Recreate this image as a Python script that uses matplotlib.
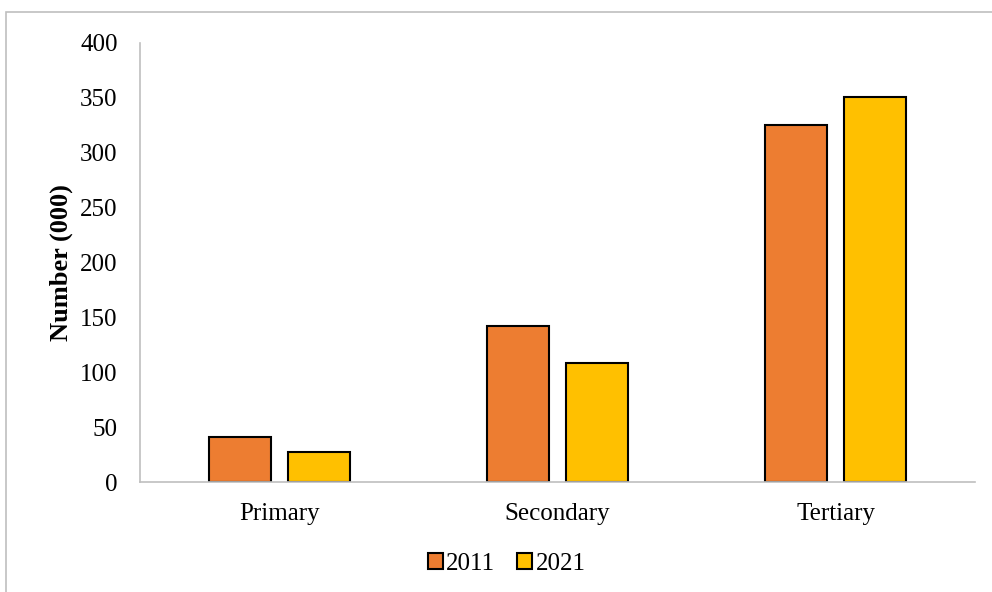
import matplotlib.pyplot as plt
import numpy as np
from matplotlib.patches import Rectangle

categories = ['Primary', 'Secondary', 'Tertiary']
years = ['2011', '2021']
values_2011 = [41, 142, 325]
values_2021 = [27, 108, 351]
colors = ['#ED7D31', '#FFC000']

plt.rcParams['font.family'] = ['Liberation Serif', 'DejaVu Serif']

fig = plt.figure(figsize=(9.92, 5.92), dpi=100, facecolor='white')
ax = fig.add_axes([0.1411, 0.1858, 0.8418, 0.7416])

x = np.arange(len(categories))
w = 0.223
off = 0.142
ax.bar(x - off, values_2011, w, color=colors[0], edgecolor='black', linewidth=1.5, label=years[0])
ax.bar(x + off, values_2021, w, color=colors[1], edgecolor='black', linewidth=1.5, label=years[1])

ax.set_xlim(-0.5, 2.5)
ax.set_ylim(0, 400)
ax.set_yticks(range(0, 401, 50))
ax.set_xticks(x)
ax.set_xticklabels(categories)
ax.tick_params(axis='both', length=0, labelsize=18)
ax.tick_params(axis='y', pad=16)
ax.tick_params(axis='x', pad=15)
for s in ['top', 'right']:
    ax.spines[s].set_visible(False)
for s in ['left', 'bottom']:
    ax.spines[s].set_color('#bfbfbf')
    ax.spines[s].set_linewidth(1.2)
ax.set_ylabel('Number (000)', fontsize=19, fontweight='bold', labelpad=5)

leg = fig.legend(loc='center', bbox_to_anchor=(0.511, 0.047), ncol=2, frameon=False,
                 fontsize=18, handlelength=0.6, handleheight=0.6, handletextpad=0.12,
                 columnspacing=0.88)

# outer frame of the chart area
fig.patches.append(Rectangle((6 / 992, -0.05), 1.2, 1.05 - 12 / 592, transform=fig.transFigure,
                             fill=False, edgecolor='#bfbfbf', linewidth=1.2))

fig.savefig('out.png', dpi=100)
